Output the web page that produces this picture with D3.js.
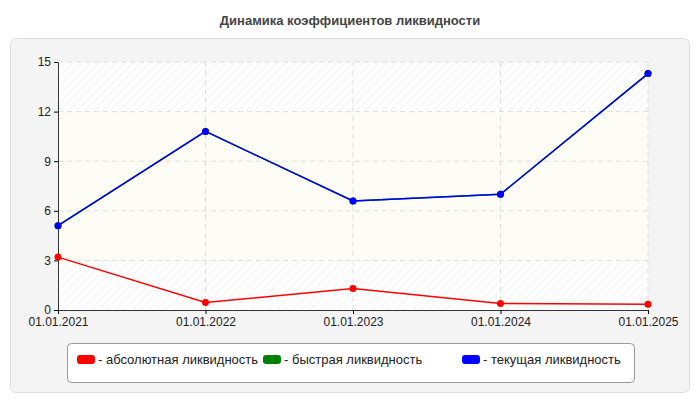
<!DOCTYPE html>
<html><head><meta charset="utf-8">
<script src="https://cdn.jsdelivr.net/npm/d3@7"></script>
<style>body{margin:0;background:#fff;font-family:Arial,"Liberation Sans",sans-serif}</style>
</head><body><svg id="c" width="700" height="400"></svg>
<script>
const dates = ["01.01.2021", "01.01.2022", "01.01.2023", "01.01.2024", "01.01.2025"];
const absolute = [3.2, 0.45, 1.3, 0.4, 0.35];
const quick = [5.1, 10.8, 6.6, 7.0, 14.3];
const current = [5.1, 10.8, 6.6, 7.0, 14.3];
const yTicks = [0, 3, 6, 9, 12, 15];
const series = [
  { name: "- абсолютная ликвидность", values: absolute, color: "#ff0000" },
  { name: "- быстрая ликвидность", values: quick, color: "#008000" },
  { name: "- текущая ликвидность", values: current, color: "#0000ff" },
];

const svg = d3.select("#c");
svg.append("text").attr("x", 350).attr("y", 25).attr("text-anchor", "middle")
  .attr("font-size", 13).attr("font-weight", "bold").attr("fill", "#444")
  .text("Динамика коэффициентов ликвидности");
svg.append("rect").attr("x", 10.5).attr("y", 38.5).attr("width", 679).attr("height", 354)
  .attr("rx", 6).attr("fill", "#f4f4f4").attr("stroke", "#ddd");

const defs = svg.append("defs");
const pat = defs.append("pattern").attr("id", "hatch").attr("width", 6).attr("height", 6)
  .attr("patternUnits", "userSpaceOnUse").attr("patternTransform", "rotate(45)");
pat.append("rect").attr("width", 6).attr("height", 6).attr("fill", "#fff");
pat.append("line").attr("x1", 0).attr("y1", 0).attr("x2", 0).attr("y2", 6).attr("stroke", "#f0f0f0").attr("stroke-width", 1.5);

const x = d3.scalePoint().domain(dates).range([58, 648]);
const y = d3.scaleLinear().domain([0, 15]).range([310, 62]);

svg.append("rect").attr("x", 58).attr("y", 62).attr("width", 590).attr("height", 248).attr("fill", "url(#hatch)");
svg.append("rect").attr("x", 58).attr("y", y(12)).attr("width", 590).attr("height", y(3) - y(12))
  .attr("fill", "#fdfdf4").attr("opacity", 0.9);

const g = svg.append("g");
g.selectAll(".gy").data(yTicks.slice(1)).join("line")
  .attr("x1", 58).attr("x2", 648).attr("y1", d => y(d)).attr("y2", d => y(d))
  .attr("stroke", "#ddd").attr("stroke-dasharray", "5,4");
g.selectAll(".gx").data(dates.slice(1)).join("line")
  .attr("x1", d => x(d)).attr("x2", d => x(d)).attr("y1", 62).attr("y2", 310)
  .attr("stroke", "#ddd").attr("stroke-dasharray", "5,4");

svg.append("g").attr("transform", "translate(58,0)")
  .call(d3.axisLeft(y).tickValues(yTicks).tickSize(4).tickSizeOuter(0))
  .call(a => a.selectAll("text").attr("font-size", 12).attr("fill", "#222"));
svg.append("g").attr("transform", "translate(0,310)")
  .call(d3.axisBottom(x).tickSize(4).tickSizeOuter(0))
  .call(a => a.selectAll("text").attr("font-size", 12).attr("fill", "#222"));
svg.selectAll(".domain").attr("stroke", "#333");

const line = d3.line().x((d, i) => x(dates[i])).y(d => y(d));
series.forEach(s => {
  svg.append("path").datum(s.values).attr("d", line).attr("fill", "none")
    .attr("stroke", s.color).attr("stroke-width", 1.5);
  svg.selectAll(null).data(s.values).join("circle")
    .attr("cx", (d, i) => x(dates[i])).attr("cy", d => y(d)).attr("r", 3.5).attr("fill", s.color);
});

svg.append("rect").attr("x", 67.5).attr("y", 343.5).attr("width", 567).attr("height", 39)
  .attr("rx", 4).attr("fill", "#fff").attr("stroke", "#999");
const lx = [77, 263, 462];
series.forEach((s, i) => {
  svg.append("rect").attr("x", lx[i]).attr("y", 355).attr("width", 18).attr("height", 9)
    .attr("rx", 3).attr("fill", s.color);
  svg.append("text").attr("x", lx[i] + 21).attr("y", 364).attr("font-size", 13).attr("fill", "#222").text(s.name);
});
</script></body></html>
